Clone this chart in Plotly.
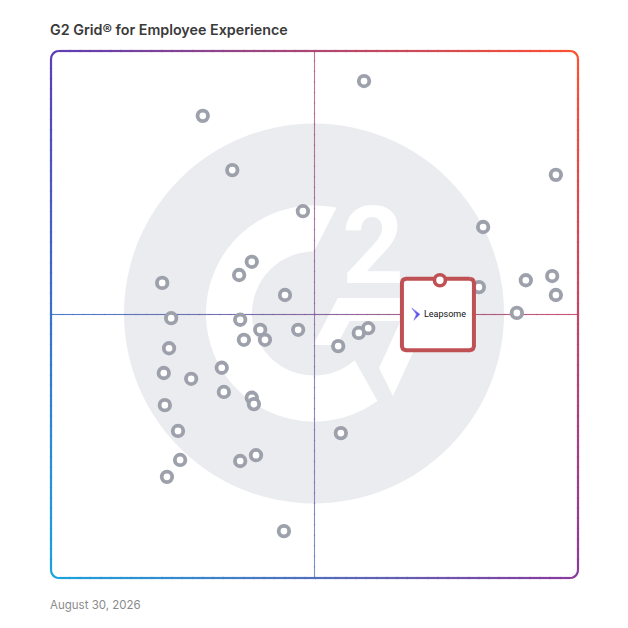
import numpy as np
import plotly.graph_objects as go

# G2 grid for Employee Experience - vendor dots (x: market presence, y: satisfaction, both 0-100)
vendor_x = [59.4, 28.8, 34.4, 95.8, 47.8, 82.0, 38.1, 35.7, 21.1, 90.1, 95.1, 81.2, 95.8,
            44.4, 88.4, 22.8, 35.9, 39.7, 46.9, 60.2, 58.4, 36.6, 40.6, 54.5, 22.4, 32.4,
            21.4, 26.6, 32.8, 38.1, 38.5, 21.6, 24.1, 55.0, 24.5, 38.9, 35.9, 22.0, 44.2]
vendor_y = [94.3, 87.7, 77.4, 76.5, 69.6, 66.6, 60.0, 57.5, 56.0, 56.5, 57.3, 55.2, 53.7,
            53.7, 50.3, 49.3, 49.0, 47.1, 47.1, 47.4, 46.5, 45.2, 45.2, 44.0, 43.6, 39.9,
            38.9, 37.8, 35.3, 34.2, 33.0, 32.8, 27.9, 27.5, 22.4, 23.3, 22.2, 19.2, 8.9]

# highlighted product
featured_name = "Leapsome"
featured_x = 73.8
featured_y = 56.5

title_text = "G2 Grid® for Employee Experience"
date_text = "August 30, 2026"

# plot box in pixels: 51..578 on both axes
PX = 100 / 527


def to_xy(px_x, px_y):
    return (px_x - 51) * PX, (578 - px_y) * PX


def make_path(points):
    s = "M " + " L ".join(f"{x:.3f},{y:.3f}" for x, y in points)
    return s + " Z"


def hex_rgb(h):
    h = h.lstrip("#")
    return np.array([int(h[i:i + 2], 16) for i in (0, 2, 4)], dtype=float)


# gradient of the frame (corners)
c_tl = hex_rgb("#5B3FB5")
c_tr = hex_rgb("#FF5030")
c_bl = hex_rgb("#1BA3DD")
c_br = hex_rgb("#8A3A9C")


def grad(u, v):
    # u: 0 left -> 1 right, v: 0 bottom -> 1 top
    top = c_tl * (1 - u) + c_tr * u
    bot = c_bl * (1 - u) + c_br * u
    c = bot * (1 - v) + top * v
    return "rgb(%d,%d,%d)" % tuple(np.round(c))


shapes = []

# ---- watermark (G2 logo) ----
wm_grey = "#EAECEF"
cx, cy = 314, 313.5
x0, y0 = to_xy(cx - 190, cy - 190)
x1, y1 = to_xy(cx + 190, cy + 190)
shapes.append(dict(type="circle", xref="x", yref="y", x0=x0, y0=y1, x1=x1, y1=y0,
                   fillcolor=wm_grey, line_width=0, layer="below"))

outer = [(cx + 108 * np.cos(np.radians(a)), cy - 108 * np.sin(np.radians(a)))
         for a in np.linspace(78, 306, 80)]
inner = [(cx + 62 * np.cos(np.radians(a)), cy - 62 * np.sin(np.radians(a)))
         for a in np.linspace(311, 90, 80)]
ring = [to_xy(*p) for p in outer + inner]
shapes.append(dict(type="path", xref="x", yref="y", path=make_path(ring),
                   fillcolor="white", line_width=0, layer="below"))

chevron = [
    [(338, 298), (438, 298), (428, 321), (327, 321)],
    [(338, 298), (362, 298), (337, 345), (313, 345)],
    [(411, 298), (438, 298), (393, 396), (379, 368)],
]
for poly in chevron:
    shapes.append(dict(type="path", xref="x", yref="y",
                       path=make_path([to_xy(*p) for p in poly]),
                       fillcolor="white", line_width=0, layer="below"))

# ---- quadrant lines with gradient (axis refs so they sit above the watermark) ----
n = 50
eps = 0.25
for i in range(n):
    a, b = 100 * i / n, 100 * (i + 1) / n
    m = (a + b) / 200
    shapes.append(dict(type="line", xref="x", yref="y", x0=a, x1=min(b + eps, 100), y0=50, y1=50,
                       line=dict(color=grad(m, 0.5), width=1.1), opacity=0.9, layer="below"))
    shapes.append(dict(type="line", xref="x", yref="y", x0=50, x1=50, y0=a, y1=min(b + eps, 100),
                       line=dict(color=grad(0.5, m), width=1.1), opacity=0.75, layer="below"))

# ---- rounded frame with gradient ----
r = 8 / 527
edges = [
    lambda t: (r + t * (1 - 2 * r), 1.0),
    lambda t: (r + t * (1 - 2 * r), 0.0),
    lambda t: (0.0, r + t * (1 - 2 * r)),
    lambda t: (1.0, r + t * (1 - 2 * r)),
]
for edge in edges:
    for i in range(n):
        xa, ya = edge(i / n)
        xb, yb = edge(min((i + 1.15) / n, 1))
        shapes.append(dict(type="line", xref="paper", yref="paper", x0=xa, y0=ya, x1=xb, y1=yb,
                           line=dict(color=grad((xa + xb) / 2, (ya + yb) / 2), width=2.2),
                           layer="below"))
corners = [(r, 1 - r, 90, 180), (1 - r, 1 - r, 0, 90), (r, r, 180, 270), (1 - r, r, 270, 360)]
for ccx, ccy, a0, a1 in corners:
    angs = np.radians(np.linspace(a0, a1, 7))
    pts = [(ccx + r * np.cos(t), ccy + r * np.sin(t)) for t in angs]
    p = "M " + " L ".join(f"{x:.5f},{y:.5f}" for x, y in pts)
    shapes.append(dict(type="path", xref="paper", yref="paper", path=p,
                       line=dict(color=grad(round(ccx), round(ccy)), width=2.2), layer="below"))

# ---- leapsome icon ----
fx_px = 51 + featured_x / PX
fy_px = 578 - featured_y / PX
icon = [(fx_px - 28, fy_px + 28), (fx_px - 20, fy_px + 34), (fx_px - 26, fy_px + 40),
        (fx_px - 23.5, fy_px + 34)]
shapes.append(dict(type="path", xref="x", yref="y", path=make_path([to_xy(*p) for p in icon]),
                   fillcolor="#5B4BE6", line=dict(color="#8A84F2", width=0.8), layer="above"))

fig = go.Figure()

fig.add_trace(go.Scatter(
    x=vendor_x, y=vendor_y, mode="markers",
    marker=dict(symbol="circle", size=10.5, color="white", line=dict(color="#9DA1AB", width=3.8)),
    hoverinfo="skip"))

# box around the featured product (rounded corners)
bl, br_, bt, bb, rr = -38, 34, -1.5, 70, 4
box_px = []
for (ccx, ccy, a0, a1) in [(br_ - rr, bt + rr, 90, 0), (br_ - rr, bb - rr, 0, -90),
                          (bl + rr, bb - rr, -90, -180), (bl + rr, bt + rr, -180, -270)]:
    for a in np.radians(np.linspace(a0, a1, 6)):
        box_px.append((fx_px + ccx + rr * np.cos(a), fy_px + ccy - rr * np.sin(a)))
box_px.append(box_px[0])
box_xy = [to_xy(*p) for p in box_px]
fig.add_trace(go.Scatter(
    x=[p[0] for p in box_xy], y=[p[1] for p in box_xy], mode="lines", fill="toself",
    fillcolor="white", line=dict(color="#BF5155", width=4), hoverinfo="skip"))

fig.add_trace(go.Scatter(
    x=[featured_x], y=[featured_y], mode="markers",
    marker=dict(symbol="circle", size=11, color="white", line=dict(color="#BF5155", width=3.6)),
    hoverinfo="skip"))

annotations = [
    dict(text=title_text, xref="paper", yref="paper", x=-0.006, y=(578 - 29) / 527,
         xanchor="left", yanchor="middle", showarrow=False,
         font=dict(family="Inter", size=14.3, color="#3A3A3A", weight=600)),
    dict(text=date_text, xref="paper", yref="paper", x=-0.006, y=(578 - 605) / 527,
         xanchor="left", yanchor="middle", showarrow=False,
         font=dict(family="Inter", size=11.5, color="#8A8A8A")),
    dict(text="2", xref="x", yref="y", x=to_xy(373, 0)[0], y=to_xy(0, 246)[1],
         xanchor="center", yanchor="middle", showarrow=False,
         font=dict(family="Roboto", size=108, color="white", weight="bold")),
    dict(text=featured_name, xref="x", yref="y", x=to_xy(fx_px - 18, 0)[0], y=to_xy(0, fy_px + 34)[1],
         xanchor="left", yanchor="middle", showarrow=False,
         font=dict(family="Roboto", size=9, color="#111111")),
]

# the page body adds 8px on the top/left, so margins are shifted to keep the box at 51..578
fig.update_layout(
    width=628, height=628,
    margin=dict(l=43, r=58, t=43, b=58),
    paper_bgcolor="white", plot_bgcolor="white",
    showlegend=False,
    shapes=shapes,
    annotations=annotations,
    xaxis=dict(range=[0, 100], visible=False, showgrid=False, zeroline=False, fixedrange=True),
    yaxis=dict(range=[0, 100], visible=False, showgrid=False, zeroline=False, fixedrange=True),
)

fig.write_html("out.html")
